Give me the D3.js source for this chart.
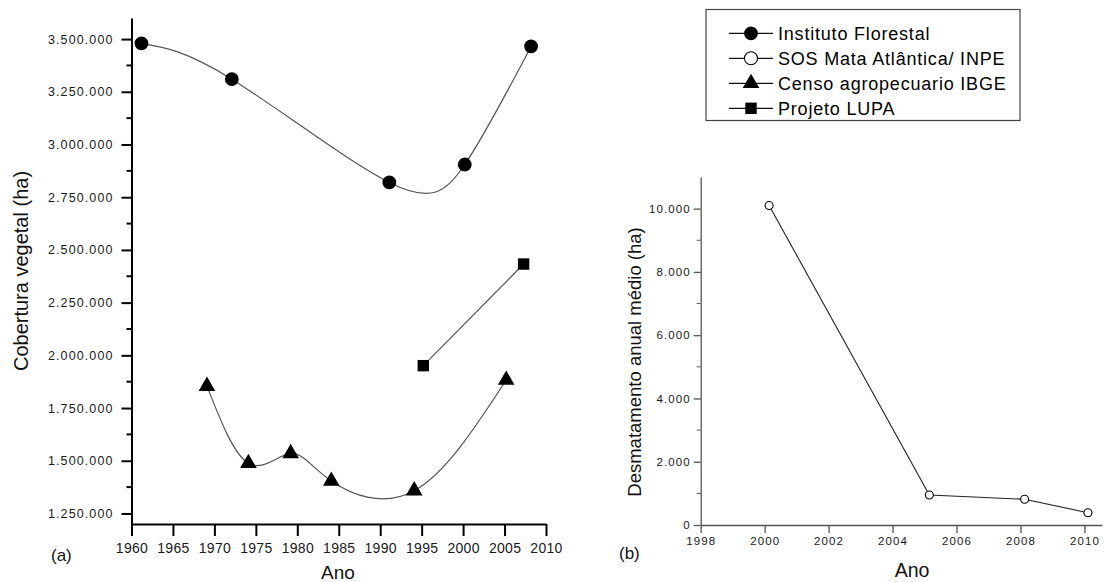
<!DOCTYPE html>
<html>
<head>
<meta charset="utf-8">
<script src="https://cdn.jsdelivr.net/npm/d3@7"></script>
<style>
  body { margin: 0; background: #fff; }
  svg { display: block; font-family: Arial, "Liberation Sans", sans-serif; }
</style>
</head>
<body>
<svg id="chart" width="1104" height="582"></svg>
<script>
// cobertura vegetal (ha) - painel (a)
var florestal = [[1961.2, 3480000], [1972.1, 3310000], [1991.1, 2820000], [2000.2, 2905000], [2008.2, 3465000]];
var censo = [[1969.1, 1854000], [1974.1, 1488000], [1979.2, 1535000], [1984.1, 1404000], [1994.1, 1358000], [2005.2, 1883000]];
var lupa = [[1995.2, 1951000], [2007.3, 2433000]];
// desmatamento anual medio (ha) - painel (b)
var sos = [[2000.14, 10100], [2005.15, 948], [2008.13, 812], [2010.11, 389]];

var xTicksA = [1960, 1965, 1970, 1975, 1980, 1985, 1990, 1995, 2000, 2005, 2010];
var yTicksA = [1250000, 1500000, 1750000, 2000000, 2250000, 2500000, 2750000, 3000000, 3250000, 3500000];
var xTicksB = [1998, 2000, 2002, 2004, 2006, 2008, 2010];
var yTicksB = [0, 2000, 4000, 6000, 8000, 10000];

var legendNames = ["Instituto Florestal", "SOS Mata Atlântica/ INPE", "Censo agropecuario IBGE", "Projeto LUPA"];
var legendSymbols = ["circle", "open", "triangle", "square"];

var br = d3.formatLocale({decimal: ",", thousands: ".", grouping: [3], currency: ["", ""]});
var fmt = br.format(",");

var svg = d3.select("#chart");

// ---------- painel (a)
var xA = d3.scaleLinear().domain([1960, 2010]).range([131.5, 546]);
var yA = d3.scaleLinear().domain([1200000, 3600000]).range([524, 18]);

var gA = svg.append("g");

var yMinorA = d3.range(1375000, 3500000, 250000);
gA.selectAll("line.minorA").data(yMinorA).enter().append("line")
  .attr("x1", xA(1960) - 5).attr("x2", xA(1960))
  .attr("y1", function (d) { return yA(d); }).attr("y2", function (d) { return yA(d); })
  .attr("stroke", "#000").attr("stroke-width", 2);

var axisYA = gA.append("g").attr("transform", "translate(" + xA(1960) + ",0)")
  .call(d3.axisLeft(yA).tickValues(yTicksA).tickFormat(fmt).tickSize(10).tickSizeOuter(0).tickPadding(8));
var axisXA = gA.append("g").attr("transform", "translate(0," + yA(1200000) + ")")
  .call(d3.axisBottom(xA).tickValues(xTicksA).tickFormat(d3.format("d")).tickSize(12).tickSizeOuter(0).tickPadding(7));

[axisYA, axisXA].forEach(function (ax) {
  ax.select(".domain").attr("stroke", "#000").attr("stroke-width", 2);
  ax.selectAll(".tick line").attr("stroke", "#000").attr("stroke-width", 2);
});
axisYA.selectAll(".tick text").attr("font-size", 12.5).attr("letter-spacing", 1.1).attr("fill", "#1a1a1a");
axisXA.selectAll(".tick text").attr("font-size", 14).attr("letter-spacing", 0.3).attr("fill", "#1a1a1a");

var lineA = d3.line().x(function (d) { return xA(d[0]); }).y(function (d) { return yA(d[1]); });

gA.append("path").attr("d", lineA.curve(d3.curveNatural)(florestal))
  .attr("fill", "none").attr("stroke", "#555").attr("stroke-width", 1.2);
gA.append("path").attr("d", lineA.curve(d3.curveNatural)(censo))
  .attr("fill", "none").attr("stroke", "#555").attr("stroke-width", 1.2);
gA.append("path").attr("d", lineA.curve(d3.curveLinear)(lupa))
  .attr("fill", "none").attr("stroke", "#555").attr("stroke-width", 1.2);

var symCircle = d3.symbol().type(d3.symbolCircle).size(150);
var symTri = d3.symbol().type(d3.symbolTriangle).size(120);
var symSquare = d3.symbol().type(d3.symbolSquare).size(130);

gA.selectAll("path.florestal").data(florestal).enter().append("path")
  .attr("d", symCircle).attr("transform", function (d) { return "translate(" + xA(d[0]) + "," + yA(d[1]) + ")"; })
  .attr("fill", "#000");
gA.selectAll("path.censo").data(censo).enter().append("path")
  .attr("d", symTri).attr("transform", function (d) { return "translate(" + xA(d[0]) + "," + yA(d[1]) + ")"; })
  .attr("fill", "#000");
gA.selectAll("path.lupa").data(lupa).enter().append("path")
  .attr("d", symSquare).attr("transform", function (d) { return "translate(" + xA(d[0]) + "," + yA(d[1]) + ")"; })
  .attr("fill", "#000");

gA.append("text").attr("transform", "translate(28,271) rotate(-90)").attr("text-anchor", "middle")
  .attr("font-size", 20).attr("fill", "#111").text("Cobertura vegetal (ha)");
gA.append("text").attr("x", 338).attr("y", 579).attr("text-anchor", "middle")
  .attr("font-size", 19).attr("fill", "#111").text("Ano");
gA.append("text").attr("x", 51).attr("y", 561).attr("font-size", 17).attr("fill", "#111").text("(a)");

// ---------- painel (b)
var xB = d3.scaleLinear().domain([1998, 2010.55]).range([700.7, 1102]);
var yB = d3.scaleLinear().domain([0, 11000]).range([525, 177]);

var gB = svg.append("g");

var yMinorB = d3.range(1000, 10000, 2000);
gB.selectAll("line.minorB").data(yMinorB).enter().append("line")
  .attr("x1", xB(1998) - 4).attr("x2", xB(1998))
  .attr("y1", function (d) { return yB(d); }).attr("y2", function (d) { return yB(d); })
  .attr("stroke", "#555").attr("stroke-width", 1);

var axisYB = gB.append("g").attr("transform", "translate(" + xB(1998) + ",0)")
  .call(d3.axisLeft(yB).tickValues(yTicksB).tickFormat(fmt).tickSize(7).tickSizeOuter(0).tickPadding(3));
var axisXB = gB.append("g").attr("transform", "translate(0," + yB(0) + ")")
  .call(d3.axisBottom(xB).tickValues(xTicksB).tickFormat(d3.format("d")).tickSize(8).tickSizeOuter(0).tickPadding(4));

[axisYB, axisXB].forEach(function (ax) {
  ax.select(".domain").attr("stroke", "#555").attr("stroke-width", 1.3);
  ax.selectAll(".tick line").attr("stroke", "#555").attr("stroke-width", 1.3);
  ax.selectAll(".tick text").attr("font-size", 11.5).attr("letter-spacing", 1.1).attr("fill", "#1a1a1a");
});

var lineB = d3.line().x(function (d) { return xB(d[0]); }).y(function (d) { return yB(d[1]); });
gB.append("path").attr("d", lineB(sos)).attr("fill", "none").attr("stroke", "#222").attr("stroke-width", 1.1);
gB.selectAll("circle.sos").data(sos).enter().append("circle")
  .attr("cx", function (d) { return xB(d[0]); }).attr("cy", function (d) { return yB(d[1]); })
  .attr("r", 4).attr("fill", "#fff").attr("stroke", "#000").attr("stroke-width", 1.1);

gB.append("text").attr("transform", "translate(641,362) rotate(-90)").attr("text-anchor", "middle")
  .attr("font-size", 18.5).attr("fill", "#111").text("Desmatamento anual médio (ha)");
gB.append("text").attr("x", 912).attr("y", 577).attr("text-anchor", "middle")
  .attr("font-size", 19.5).attr("fill", "#111").text("Ano");
gB.append("text").attr("x", 619).attr("y", 559).attr("font-size", 17).attr("fill", "#111").text("(b)");

// ---------- legenda
var leg = svg.append("g");
leg.append("rect").attr("x", 706).attr("y", 9.5).attr("width", 314).attr("height", 111)
  .attr("fill", "#fff").attr("stroke", "#444").attr("stroke-width", 1.2);

var rows = leg.selectAll("g.row").data(legendNames).enter().append("g")
  .attr("transform", function (d, i) { return "translate(0," + (33.3 + i * 25) + ")"; });
rows.append("line").attr("x1", 729).attr("x2", 773).attr("y1", 0).attr("y2", 0)
  .attr("stroke", "#111").attr("stroke-width", 1.2);
rows.each(function (d, i) {
  var r = d3.select(this);
  var s = legendSymbols[i];
  if (s === "circle") r.append("path").attr("d", symCircle).attr("transform", "translate(751,0)").attr("fill", "#000");
  if (s === "open") r.append("circle").attr("cx", 751).attr("cy", 0).attr("r", 6.5).attr("fill", "#fff").attr("stroke", "#000").attr("stroke-width", 1.1);
  if (s === "triangle") r.append("path").attr("d", symTri).attr("transform", "translate(751,0)").attr("fill", "#000");
  if (s === "square") r.append("path").attr("d", symSquare).attr("transform", "translate(751,0)").attr("fill", "#000");
});
rows.append("text").attr("x", 778).attr("y", 6.5).attr("font-size", 18).attr("letter-spacing", 0.8)
  .attr("fill", "#000").text(function (d) { return d; });
</script>
</body>
</html>
